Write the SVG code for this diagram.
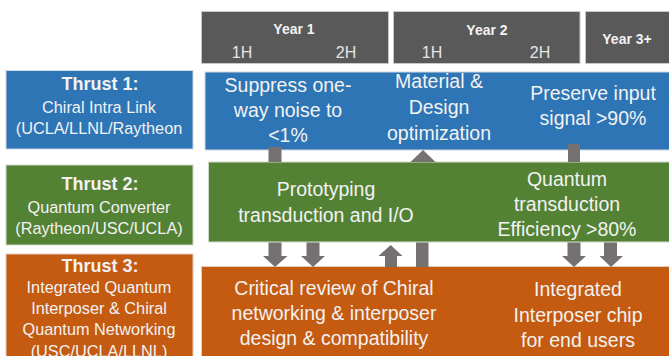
<svg xmlns="http://www.w3.org/2000/svg" width="669" height="356" viewBox="0 0 669 356">
<style>
text{font-family:"Liberation Sans",Arial,sans-serif;fill:#f2f2f2;text-anchor:middle}
.hdr{fill:#595959;stroke:#c8c8c8;stroke-width:1}
.blue{fill:#2e75b6;stroke:#cfd8e3;stroke-width:1}
.green{fill:#548235;stroke:#d0d8c8;stroke-width:1}
.orange{fill:#c55a11;stroke:#e0cfc0;stroke-width:1}
.yr{font-size:14px;font-weight:bold}
.half{font-size:16px;fill:#e6e6e6}
.tb{font-size:18px;font-weight:bold}
.tn{font-size:16.3px}
.tl{font-size:19.5px}
.arr{fill:#767171}
</style>
<g id="header">
<g id="year1"><rect class="hdr" x="201.5" y="11.5" width="187" height="52"/>
<text class="yr" x="294" y="34">Year 1</text>
<text class="half" x="242" y="58">1H</text><text class="half" x="346" y="58">2H</text></g>
<g id="year2"><rect class="hdr" x="393.5" y="11.5" width="186.5" height="52"/>
<text class="yr" x="487" y="35">Year 2</text>
<text class="half" x="432" y="58">1H</text><text class="half" x="540" y="58">2H</text></g>
<g id="year3"><rect class="hdr" x="585.5" y="11.5" width="90" height="52"/>
<text class="yr" x="627" y="44">Year 3+</text></g>
</g>
<g id="thrust1"><rect class="blue" x="6" y="70.5" width="187" height="78.5"/>
<text class="tb" x="100" y="90">Thrust 1:</text>
<text class="tn" x="99" y="113">Chiral Intra Link</text>
<text class="tn" x="99" y="134">(UCLA/LLNL/Raytheon</text></g>
<g id="thrust2"><rect class="green" x="6" y="165" width="187" height="80"/>
<text class="tb" x="100" y="190">Thrust 2:</text>
<text class="tn" x="99" y="213">Quantum Converter</text>
<text class="tn" x="99" y="234">(Raytheon/USC/UCLA)</text></g>
<g id="thrust3"><rect class="orange" x="6" y="254" width="187" height="110"/>
<text class="tb" x="100" y="272">Thrust 3:</text>
<text class="tn" x="99" y="293">Integrated Quantum</text>
<text class="tn" x="99" y="314">Interposer &amp; Chiral</text>
<text class="tn" x="99" y="335">Quantum Networking</text>
<text class="tn" x="99" y="356.5">(USC/UCLA/LLNL)</text></g>
<g id="row1"><rect class="blue" x="205" y="72" width="470" height="78"/>
<text class="tl" x="288" y="92">Suppress one-</text>
<text class="tl" x="288" y="117">way noise to</text>
<text class="tl" x="288" y="142">&lt;1%</text>
<text class="tl" x="439" y="88">Material &amp;</text>
<text class="tl" x="439" y="114">Design</text>
<text class="tl" x="439" y="140">optimization</text>
<text class="tl" x="593" y="100">Preserve input</text>
<text class="tl" x="593" y="125">signal &gt;90%</text></g>
<g id="row2"><rect class="green" x="208.5" y="162" width="466" height="80"/>
<text class="tl" x="326" y="196">Prototyping</text>
<text class="tl" x="326" y="222">transduction and I/O</text>
<text class="tl" x="567" y="186">Quantum</text>
<text class="tl" x="567" y="211">transduction</text>
<text class="tl" x="567" y="236">Efficiency &gt;80%</text></g>
<g id="row3"><rect class="orange" x="201.5" y="266.5" width="474" height="95"/>
<text class="tl" x="334" y="295">Critical review of Chiral</text>
<text class="tl" x="334" y="320">networking &amp; interposer</text>
<text class="tl" x="334" y="345">design &amp; compatibility</text>
<text class="tl" x="578" y="296">Integrated</text>
<text class="tl" x="578" y="322">Interposer chip</text>
<text class="tl" x="578" y="347">for end users</text></g>
<g id="connectors">
<rect class="arr" x="268.5" y="147" width="13" height="15"/>
<polygon class="arr" points="410.5,162 423,150 435.5,162"/>
<rect class="arr" x="568" y="144" width="12" height="18"/>
<polygon class="arr" points="268.5,242.5 281.5,242.5 281.5,256 287.5,256 275,267 263,256 268.5,256"/>
<polygon class="arr" points="306.5,242.5 319.5,242.5 319.5,256 325,256 313,267 301,256 306.5,256"/>
<polygon class="arr" points="385,267 397,267 397,256 402.5,256 390.7,245 378.5,256 385,256"/>
<rect class="arr" x="416" y="242.5" width="12.5" height="24.5"/>
<polygon class="arr" points="567.5,242.5 580.5,242.5 580.5,256 586,256 574,267 562,256 567.5,256"/>
<polygon class="arr" points="604,242.5 617,242.5 617,256 623,256 611,267 599.5,256 604,256"/>
</g>
</svg>
